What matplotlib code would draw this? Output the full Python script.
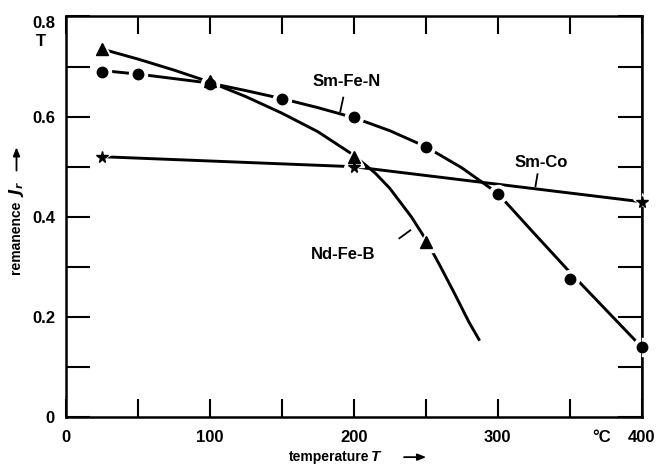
import numpy as np
import matplotlib
matplotlib.use('Agg')
from matplotlib import pyplot as plt

plt.rcParams['font.family'] = ['Liberation Sans', 'DejaVu Sans']
plt.rcParams['font.weight'] = 'bold'

# Sm-Fe-N (circles)
smfen_T = [25, 50, 100, 150, 200, 250, 300, 350, 400]
smfen_J = [0.69, 0.685, 0.665, 0.635, 0.60, 0.54, 0.445, 0.275, 0.14]
smfen_curve_T = [25, 50, 75, 100, 125, 150, 175, 200, 225, 250, 275, 300, 325, 350, 375, 400]
smfen_curve_J = [0.692, 0.685, 0.676, 0.667, 0.652, 0.636, 0.618, 0.598, 0.572, 0.540,
                 0.498, 0.447, 0.368, 0.29, 0.215, 0.14]

# Nd-Fe-B (triangles)
ndfeb_T = [25, 100, 200, 250]
ndfeb_J = [0.735, 0.672, 0.52, 0.35]
ndfeb_curve_T = [25, 50, 75, 100, 125, 150, 175, 200, 215, 225, 240, 250, 260, 270, 280, 287]
ndfeb_curve_J = [0.735, 0.715, 0.693, 0.669, 0.640, 0.607, 0.570, 0.523, 0.487, 0.457,
                 0.40, 0.355, 0.302, 0.247, 0.19, 0.155]

# Sm-Co (stars)
smco_T = [25, 200, 400]
smco_J = [0.52, 0.50, 0.43]

xticks = [0, 50, 100, 150, 200, 250, 300, 350, 400]
xlabels = ['0', '', '100', '', '200', '', '300', '', '400']
yticks = [0, 0.1, 0.2, 0.3, 0.4, 0.5, 0.6, 0.7, 0.8]
ylabels = ['0', '', '0.2', '', '0.4', '', '0.6', '', '0.8']

fig = plt.figure(figsize=(6.6, 4.66), dpi=100)
ax = fig.add_axes([0.1, 0.105, 0.872, 0.8596])

lw = 2.1
ax.plot(smfen_curve_T, smfen_curve_J, color='black', lw=lw, zorder=2)
ax.plot(ndfeb_curve_T, ndfeb_curve_J, color='black', lw=lw, zorder=2)
ax.plot(smco_T, smco_J, color='black', lw=lw, zorder=2)

# white halo under each marker gives the small gap in the line
ax.plot(smfen_T, smfen_J, 'o', color='white', ms=13, zorder=3, clip_on=False)
ax.plot(ndfeb_T, ndfeb_J, '^', color='white', ms=14, zorder=3, clip_on=False)
ax.plot(smco_T, smco_J, '*', color='white', ms=13, zorder=3, clip_on=False)
ax.plot(smfen_T, smfen_J, 'o', color='black', ms=7.5, zorder=4, clip_on=False)
ax.plot(ndfeb_T, ndfeb_J, '^', color='black', ms=8, zorder=4, clip_on=False)
ax.plot(smco_T, smco_J, '*', color='black', ms=8.5, zorder=4, clip_on=False)
# redraw the right spine over the halo
ax.axvline(400, color='black', lw=1.8, zorder=3.5)

ax.text(194.8, 0.670, 'Sm-Fe-N', fontsize=12, ha='center', va='center')
ax.text(330, 0.509, 'Sm-Co', fontsize=12, ha='center', va='center')
ax.text(192.7, 0.325, 'Nd-Fe-B', fontsize=12, ha='center', va='center')
ax.plot([192.7, 190.6], [0.638, 0.610], color='black', lw=1.3)
ax.plot([231.7, 239.3], [0.357, 0.373], color='black', lw=1.3)
ax.plot([327.7, 326.3], [0.485, 0.461], color='black', lw=1.3)

ax.set_xlim(0, 400)
ax.set_ylim(0, 0.8)
ax.set_xticks(xticks)
ax.set_xticklabels(xlabels)
ax.set_yticks(yticks)
ax.set_yticklabels(ylabels)
ax.tick_params(direction='in', width=1.5, top=True, right=True, labelsize=12)
ax.tick_params(axis='x', length=13, pad=9)
ax.tick_params(axis='y', length=17, pad=8)
ax.get_yticklabels()[-1].set_va('top')
for s in ax.spines.values():
    s.set_linewidth(1.8)

fig.text(0.062, 0.912, 'T', fontsize=12, ha='center', va='center')
fig.text(0.912, 0.062, '°C', fontsize=12, ha='center', va='center')

# x label: temperature T ->
fig.text(0.498, 0.019, 'temperature', fontsize=10, ha='center', va='center')
fig.text(0.569, 0.019, 'T', fontsize=11, style='italic', ha='center', va='center')
ax.annotate('', xy=(0.650, 0.019), xytext=(0.608, 0.019), xycoords='figure fraction',
            arrowprops=dict(arrowstyle='-|>,head_length=0.5,head_width=0.2', lw=1.3, color='black'))

# y label: remanence J_r ->
fig.text(0.025, 0.49, 'remanence', fontsize=10, rotation=90, ha='center', va='center')
fig.text(0.025, 0.595, r'$J_r$', fontsize=11, rotation=90, ha='center', va='center')
ax.annotate('', xy=(0.025, 0.69), xytext=(0.025, 0.628), xycoords='figure fraction',
            arrowprops=dict(arrowstyle='-|>,head_length=0.5,head_width=0.2', lw=1.3, color='black'))

fig.savefig('out.png', dpi=100)
